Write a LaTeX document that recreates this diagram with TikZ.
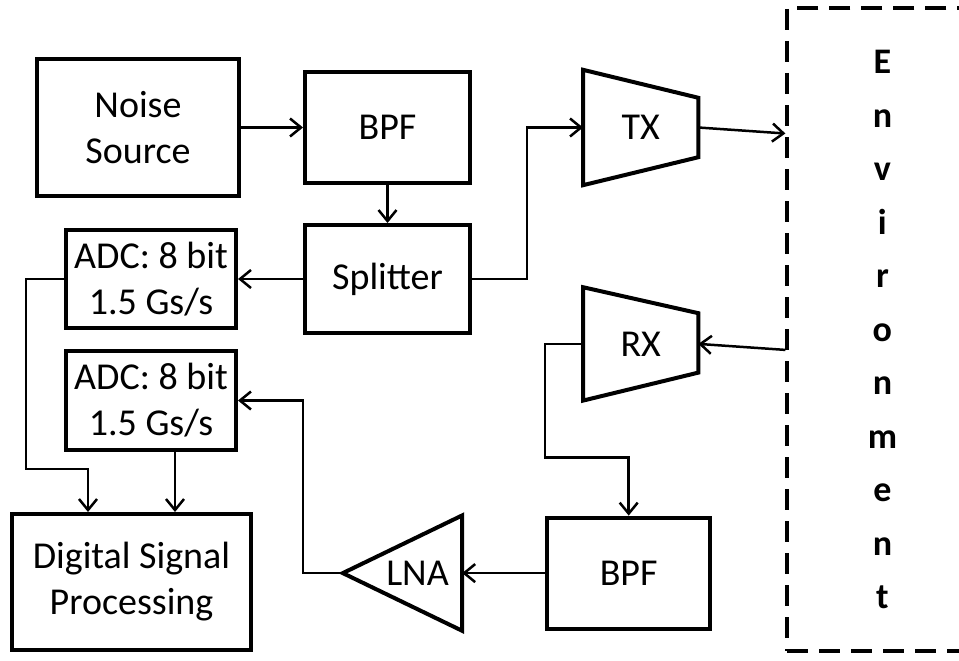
\documentclass[tikz,border=0pt]{standalone}
\usepackage{fontspec}
\setmainfont{Carlito}
\usetikzlibrary{positioning, arrows.meta}

\begin{document}
\begin{tikzpicture}
	\tikzstyle{block}=[rectangle, draw=black, line width=4pt, align=center, font=\fontsize{38}{46}\selectfont]
	\tikzstyle{amp}=[rectangle, inner sep=0pt, font=\fontsize{38}{46}\selectfont]
	\tikzstyle{envbox}=[rectangle, draw=black, line width=4pt, dash pattern=on 21pt off 11pt, align=center, font=\fontsize{36}{53.5}\selectfont\bfseries]
	\tikzstyle{connect}=[-{Straight Barb[length=11pt, width=18pt, line width=2.5pt]}, line width=2.5pt]
	\useasboundingbox (0,0) rectangle (959pt,-661pt);
% transmit chain
\node[block, minimum width=202pt, minimum height=137pt] (noise) at (138pt,-127.5pt) {Noise\\Source};
\node[block, minimum width=165pt, minimum height=111pt] (bpf1) [right=62pt of noise] {BPF};
\node[block, minimum width=165pt, minimum height=108pt] (split) [below=38pt of bpf1] {Splitter};
\node[amp, minimum width=115pt, minimum height=115pt] (tx) [right=111pt of bpf1] {TX};
\node[envbox, minimum width=190pt, minimum height=643pt] (env) [right=87pt of tx, yshift=-202pt] {E\\n\\v\\i\\r\\o\\n\\m\\e\\n\\t};
% receive chain
\node[amp, minimum width=115pt, minimum height=113pt] (rx) [below=102pt of tx] {RX};
\node[block, minimum width=163pt, minimum height=111pt] (bpf2) [below=115pt of rx, xshift=-12pt] {BPF};
\node[amp, minimum width=119pt, minimum height=115pt] (lna) [left=83pt of bpf2] {};
\node[amp] (lnatext) at ([xshift=15pt]lna.center) {LNA};
% sampling and processing
\node[block, minimum width=170pt, minimum height=98pt, inner xsep=2pt] (adc1) [left=65pt of split] {ADC: 8 bit\\1.5 Gs/s};
\node[block, minimum width=170pt, minimum height=99pt, inner xsep=2pt] (adc2) [below=19pt of adc1] {ADC: 8 bit\\1.5 Gs/s};
\node[block, minimum width=239pt, minimum height=136pt] (dsp) [below=60pt of adc2, xshift=-19.5pt] {Digital Signal\\Processing};
% amplifier outlines
\draw[line width=4pt, line join=miter] (tx.north west) -- ([yshift=-28pt]tx.north east) -- ([yshift=28pt]tx.south east) -- (tx.south west) -- cycle;
\draw[line width=4pt, line join=miter] (rx.north west) -- ([yshift=-26pt]rx.north east) -- ([yshift=28pt]rx.south east) -- (rx.south west) -- cycle;
\draw[line width=4pt, line join=miter] (lna.north east) -- (lna.west) -- (lna.south east) -- cycle;
\path (noise) edge [connect] (bpf1)
      (bpf1) edge [connect] (split)
      (split) edge [connect] (adc1);
\draw[connect] (split.east) -- ++(55pt,0) |- (tx.west);
\draw[connect] (tx.east) -- ([yshift=-6pt]env.west |- tx.east);
\draw[connect] ([yshift=-6pt]env.west |- rx.east) -- (rx.east);
\draw[connect] (rx.west) -- ++(-38pt,0) |- ([yshift=58pt]bpf2.north) -- (bpf2.north);
\draw[connect] (bpf2.west) -- (lna.east);
\draw[connect] (lna.west) -- ++(-40pt,0) |- (adc2.east);
\draw[connect] (adc1.west) -- ++(-38pt,0) |- ([xshift=-43.5pt, yshift=43pt]dsp.north) -- ([xshift=-43.5pt]dsp.north);
\draw[connect] ([xshift=24pt]adc2.south) -- ([xshift=24pt]adc2.south |- dsp.north);
\end{tikzpicture}
\end{document}
